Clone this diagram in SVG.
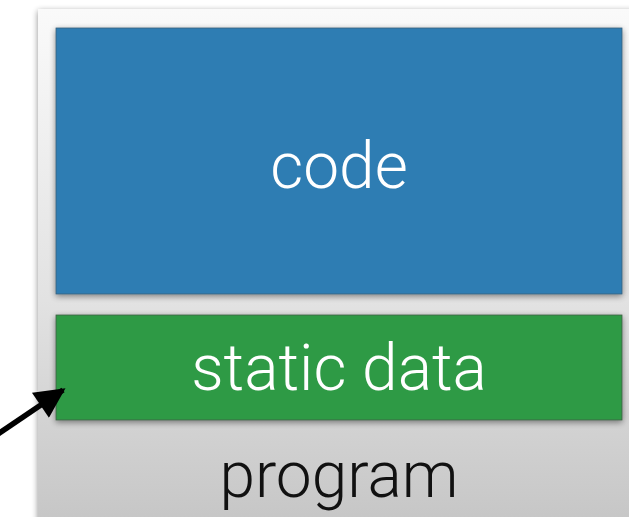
<svg xmlns="http://www.w3.org/2000/svg" width="629" height="517" viewBox="0 0 629 517">
  <style>
    .label { font-family: Roboto, "Liberation Sans", Arial, sans-serif; font-weight: 300; font-size: 64px; text-anchor: middle; }
    .light { fill: #ffffff; }
    .dark { fill: #111111; }
    .block { filter: url(#drop); }
  </style>
  <defs>
    <linearGradient id="programFill" x1="0" y1="0" x2="0" y2="1">
      <stop offset="0" stop-color="#fafafa"/>
      <stop offset="0.55" stop-color="#e2e2e2"/>
      <stop offset="1" stop-color="#c4c4c4"/>
    </linearGradient>
    <filter id="drop" x="-10%" y="-10%" width="120%" height="130%">
      <feGaussianBlur in="SourceAlpha" stdDeviation="3"/>
      <feOffset dx="0" dy="2" result="blur"/>
      <feComponentTransfer><feFuncA type="linear" slope="0.45"/></feComponentTransfer>
      <feMerge><feMergeNode/><feMergeNode in="SourceGraphic"/></feMerge>
    </filter>
    <marker id="head" viewBox="0 0 10 10" refX="9" refY="5" markerWidth="6" markerHeight="5.5" orient="auto" markerUnits="strokeWidth">
      <path d="M0,0 L10,5 L0,10 z" fill="#000"/>
    </marker>
  </defs>

  <g id="program">
    <rect x="38" y="9" width="620" height="530" fill="url(#programFill)" class="block"/>
    <text class="label dark" x="339" y="497">program</text>
  </g>

  <g id="code">
    <rect x="56" y="28" width="566" height="266" fill="#2d7db3" stroke="#3a5f7a" stroke-width="0.8" class="block"/>
    <text class="label light" x="339" y="188">code</text>
  </g>

  <g id="static-data">
    <rect x="56" y="315" width="566" height="105" fill="#2f9a45" stroke="#3d5e45" stroke-width="0.8" class="block"/>
    <text class="label light" x="339" y="390">static data</text>
  </g>

  <g id="connectors">
    <line x1="-2" y1="434" x2="63" y2="390" stroke="#000" stroke-width="5.5" marker-end="url(#head)"/>
  </g>
</svg>
